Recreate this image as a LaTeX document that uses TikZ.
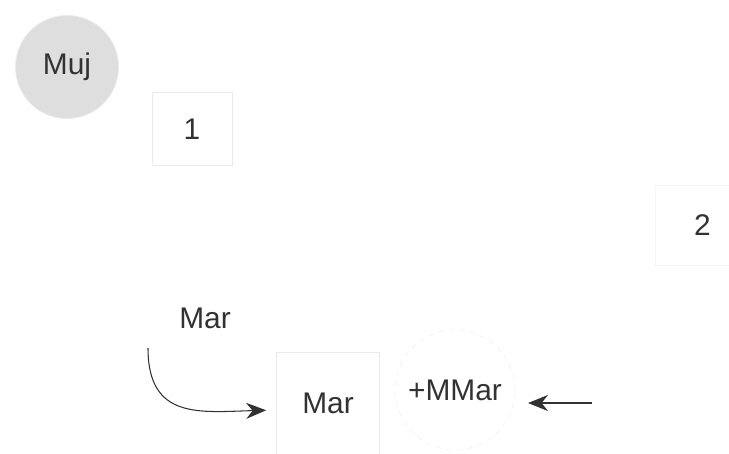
\documentclass[tikz,border=0pt]{standalone}
\usepackage{fontspec}
\setmainfont{Liberation Sans}
\usetikzlibrary{arrows.meta, positioning}
\definecolor{cFaint}{RGB}{234,234,234}
\definecolor{cDisc}{RGB}{222,222,222}
\definecolor{cInk}{RGB}{50,50,50}
\tikzset{
	disc/.style    ={circle, fill=cDisc, draw=cFaint, minimum size=2.06cm, inner sep=0pt},
	faintbox/.style={rectangle, draw=cFaint, align=center, inner sep=0pt},
	faintcirc/.style={circle, draw=cFaint, dashed, minimum size=2.4cm, inner sep=0pt},
	lbl/.style     ={text=cInk, font=\fontsize{17}{20}\selectfont},
	arr/.style     ={-{Stealth[length=4mm, width=3.2mm]}, cInk, semithick},
}
\begin{document}
\begin{tikzpicture}[x=0.02cm, y=-0.02cm, every node/.style={lbl}]
	\useasboundingbox (0,0) rectangle (729,453);
	\node[disc] (muj) at (67,67) {Muj};
	\node[faintbox, minimum width=1.6cm, minimum height=1.46cm] (one) at (192,129) {1};
	\node[faintbox, draw=white!97!black, minimum width=1.8cm, minimum height=1.6cm] (two) at (700,225) {\hspace*{0.1cm}2};
	\node (marlbl) at (205,318) {Mar};
	\node[faintbox, minimum width=2.06cm, minimum height=2.04cm] (mar) at (328,403) {Mar};
	\node[faintcirc, draw=white!95!black] (mmar) at (455,390) {+MMar};
	\coordinate (cstart) at (148,348);
	\coordinate (lstart) at (592,403);
	\draw[arr, shorten >=0.2cm] (cstart) .. controls (148,420) and (200,412) .. (mar.west |- 0,410);
	\draw[arr] (lstart) -- (528,403);
\end{tikzpicture}
\end{document}
